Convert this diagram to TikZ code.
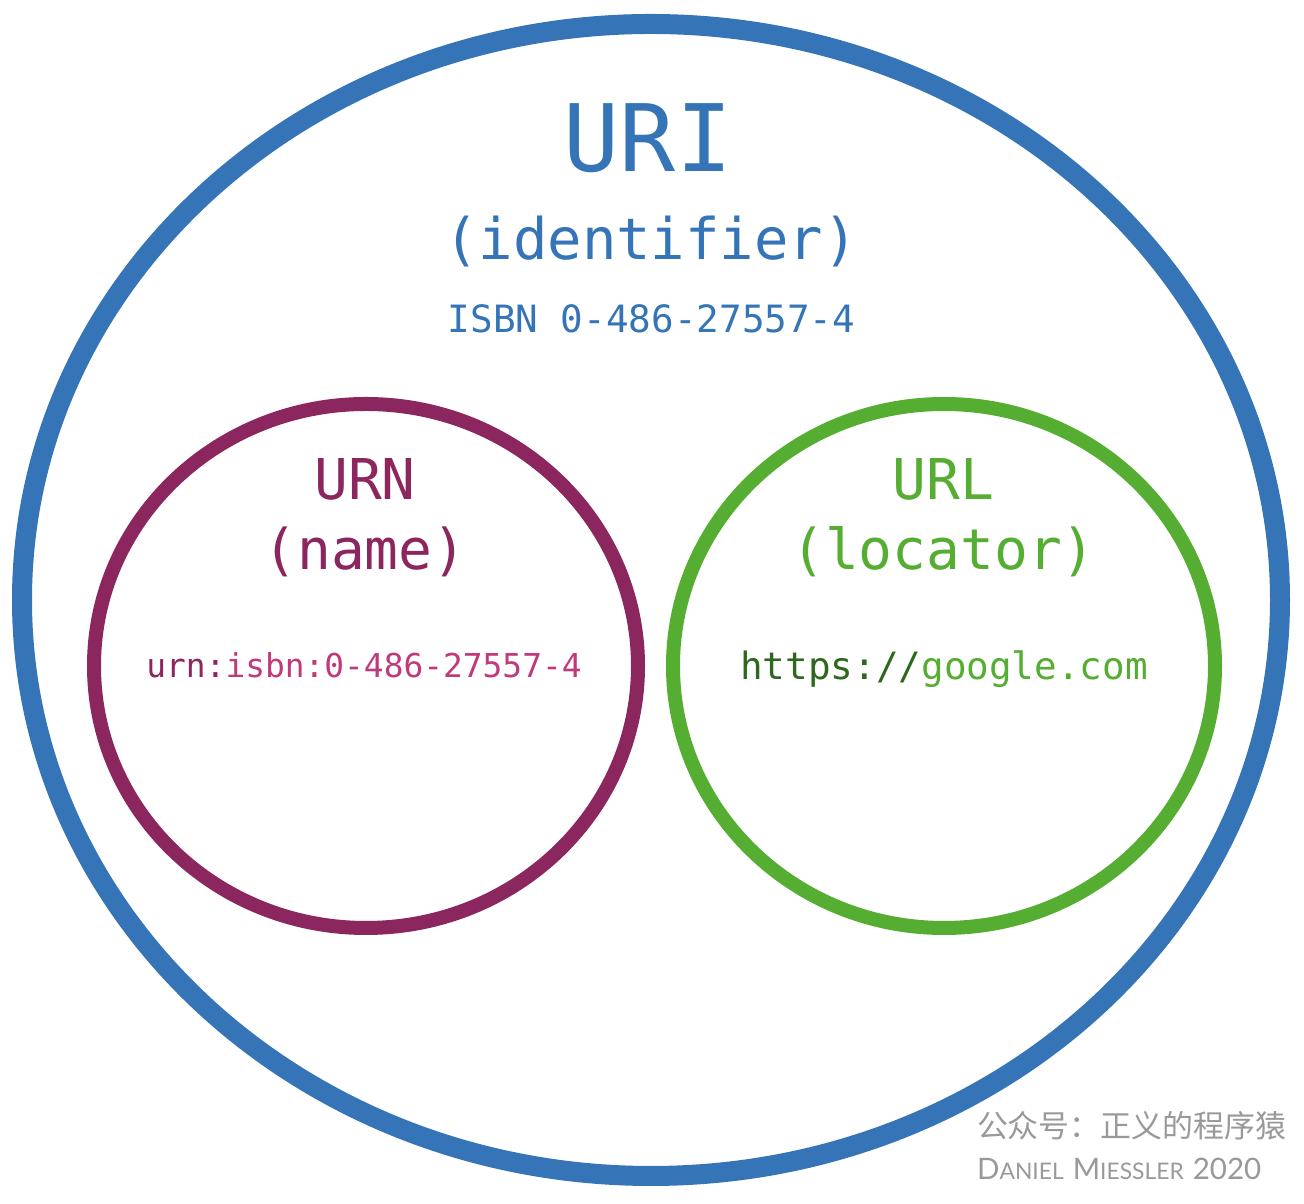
\documentclass[tikz,border=0pt]{standalone}
\usepackage{fontspec}
\setmonofont{DejaVu Sans Mono}
\newfontfamily\cjkfont{Noto Sans CJK SC}
\newfontfamily\signfont{Lato}
\newcommand{\scword}[2]{{\fontsize{8.4}{8.4}\selectfont #1}{\fontsize{6.5}{6.5}\selectfont #2}}
\begin{document}
\begin{tikzpicture}
                    \useasboundingbox (0,0) rectangle (13.040000,12.040000);
                    {\ttfamily

                    % Changing color 52 116 183
                    \definecolor{r52g116b183}{rgb}{0.203922,0.454902,0.717647}%
                    \color{r52g116b183}%

                    % Drawing ellipse URI
                    \draw [line width=0.200000cm] (6.510000,6.040000) ellipse (6.290000 and 5.760000);%

                    % Writing labels URI
                    \node [anchor=base,inner sep=0pt,font=\fontsize{26.5}{26.5}\selectfont] (uri) at (6.480000,10.320000) {URI};%
                    \node [anchor=base,inner sep=0pt,font=\fontsize{16.3}{16.3}\selectfont] (uriname) at (6.510000,9.440000) {(identifier)};%
                    \node [anchor=base,inner sep=0pt,font=\fontsize{10.7}{10.7}\selectfont] (uriex) at (6.515000,8.710000) {ISBN 0-486-27557-4};%

                    % Changing color 139 38 94
                    \definecolor{r139g38b94}{rgb}{0.545098,0.149020,0.368627}%
                    \color{r139g38b94}%

                    % Drawing ellipse URN
                    \draw [line width=0.140000cm] (3.660000,5.380000) ellipse (2.720000 and 2.620000);%

                    % Writing labels URN
                    \node [anchor=base,inner sep=0pt,font=\fontsize{16.0}{16.0}\selectfont] (urn) at (3.650000,7.040000) {URN};%
                    \node [anchor=base,inner sep=0pt,font=\fontsize{16.0}{16.0}\selectfont] (urnname) at (3.650000,6.340000) {(name)};%

                    % Changing color 192 57 122
                    \definecolor{r192g57b122}{rgb}{0.752941,0.223529,0.478431}%

                    \node [anchor=base,inner sep=0pt,font=\fontsize{9.35}{9.35}\selectfont] (urnex) at (3.640000,5.260000) {\textcolor{r139g38b94}{urn:}\textcolor{r192g57b122}{isbn:0-486-27557-4}};%

                    % Changing color 85 173 50
                    \definecolor{r85g173b50}{rgb}{0.333333,0.678431,0.196078}%
                    \color{r85g173b50}%

                    % Drawing ellipse URL
                    \draw [line width=0.140000cm] (9.440000,5.380000) ellipse (2.710000 and 2.620000);%

                    % Writing labels URL
                    \node [anchor=base,inner sep=0pt,font=\fontsize{16.0}{16.0}\selectfont] (url) at (9.435000,7.040000) {URL};%
                    \node [anchor=base,inner sep=0pt,font=\fontsize{16.0}{16.0}\selectfont] (urlname) at (9.435000,6.340000) {(locator)};%

                    % Changing color 46 104 30
                    \definecolor{r46g104b30}{rgb}{0.180392,0.407843,0.117647}%

                    \node [anchor=base,inner sep=0pt,font=\fontsize{10.7}{10.7}\selectfont] (urlex) at (9.440000,5.240000) {\textcolor{r46g104b30}{https://}\textcolor{r85g173b50}{google.com}};%

                    % Changing color 153 153 153
                    \definecolor{r153g153b153}{rgb}{0.600000,0.600000,0.600000}%
                    \color{r153g153b153}%

                    % Writing signature
                    \node [anchor=base east,inner sep=0pt,font=\cjkfont\fontsize{8.8}{8.8}\selectfont] (wechat) at (12.870000,0.660000) {公众号：正义的程序猿};%
                    \node [anchor=base east,inner sep=0pt,font=\signfont] (author) at (12.620000,0.240000) {\scword{D}{ANIEL} \scword{M}{IESSLER} \scword{2020}{}};%
                    \color{black}
                    }
\end{tikzpicture}
\end{document}
